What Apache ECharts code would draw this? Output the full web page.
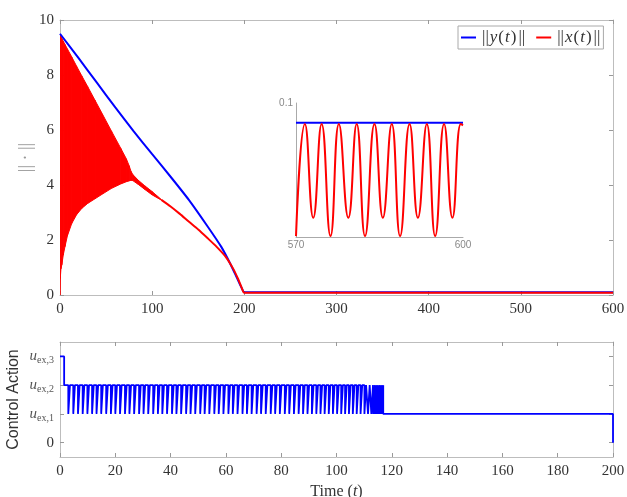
<!DOCTYPE html>
<html>
<head>
<meta charset="utf-8">
<script src="https://cdn.jsdelivr.net/npm/echarts@6/dist/echarts.min.js"></script>
<style>
  html, body { margin: 0; padding: 0; background: #fff; }
  #chart { width: 627px; height: 497px; }
</style>
</head>
<body>
<div id="chart"></div>
<script>
// ||y(t)|| (blue)
var yT = [0, 20, 40, 60, 80, 100, 120, 140, 160, 175, 185, 192, 197, 200, 600];
var yV = [9.5, 8.62, 7.72, 6.82, 5.95, 5.12, 4.3, 3.45, 2.5, 1.75, 1.12, 0.62, 0.26, 0.1, 0.1];

// ||x(t)|| oscillation envelope (red band) up to where it collapses
var envT  = [0, 0.3, 1, 2, 3.5, 5.4, 8, 12.7, 18, 23.6, 30, 38, 46, 56, 66, 72, 75, 77, 79, 85, 92, 100, 110];
var envHi = [9.45, 9.43, 9.39, 9.33, 9.23, 9.11, 8.95, 8.66, 8.32, 7.97, 7.58, 7.08, 6.58, 5.95, 5.33, 4.95, 4.7, 4.5, 4.38, 4.17, 3.97, 3.76, 3.47];
var envLo = [0, 0.6, 0.95, 1.1, 1.45, 1.76, 2.15, 2.6, 2.92, 3.15, 3.33, 3.5, 3.67, 3.88, 4.04, 4.12, 4.15, 4.17, 4.16, 4.02, 3.84, 3.64, 3.45];

// ||x(t)|| after the band has collapsed
var xT = [110, 120, 130, 140, 150, 160, 170, 180, 188, 193, 197, 200, 600];
var xV = [3.46, 3.22, 2.95, 2.66, 2.38, 2.07, 1.75, 1.38, 0.95, 0.6, 0.28, 0.08, 0.08];

// inset, t in [570, 600]
var insetT = [570, 571.6, 573.1, 574.6, 576.2, 577.7, 579.4, 580.9, 582.4, 584.1, 585.6, 587.2, 588.7, 590.4, 591.9, 593.5, 595.0, 596.6, 598.1, 599.6, 600];
var insetX = [0.0702, 0.0953, 0.0743, 0.0953, 0.0702, 0.0953, 0.0743, 0.0953, 0.0702, 0.0953, 0.0743, 0.0953, 0.0702, 0.0953, 0.0743, 0.0953, 0.0702, 0.0953, 0.0743, 0.0953, 0.095];
var insetY = [0.0956, 0.0956];
var insetYT = [570, 600];

// control action: u_ex,3 at start, u_ex,2 with short dips to u_ex,1, then u_ex,1, then 0
var uStartLevel = 3;
var uFirstSwitch = 1.5;
var dipStarts = [3.0, 4.8, 6.5, 8.2, 9.9, 11.6, 13.2, 14.9, 16.7, 18.4, 20.0, 21.7, 23.5, 25.1, 26.8, 28.6,
  30.2, 31.9, 33.7, 35.4, 37.0, 38.7, 40.5, 42.1, 43.8, 45.6, 47.2, 48.9, 50.7, 52.3, 54.0, 55.8, 57.4,
  59.1, 60.9, 62.5, 64.2, 66.0, 67.6, 69.3, 71.1, 72.7, 74.4, 76.2, 77.8, 79.5, 81.3, 82.9, 84.6, 86.3,
  87.9, 89.5, 91.1, 92.7, 94.2, 95.7, 97.2, 98.7, 100.2, 101.7, 103.1, 104.5, 105.9, 107.3, 108.7, 110.1,
  111.4, 112.6, 113.3, 113.9, 114.5, 115.1, 115.7, 116.3];
var dipWidth = 0.6;
var finalDrop = 116.9;
var endTime = 200;

var uLabels = ['0', 'u_ex,1', 'u_ex,2', 'u_ex,3'];

function pairs(t, v) {
  return t.map(function (x, i) { return [x, v[i]]; });
}

// build step path for the control action
var uData = [[0, uStartLevel], [uFirstSwitch, uStartLevel], [uFirstSwitch, 2]];
dipStarts.forEach(function (s) {
  uData.push([s, 2], [s, 1], [s + dipWidth, 1], [s + dipWidth, 2]);
});
uData.push([finalDrop, 2], [finalDrop, 1], [endTime, 1], [endTime, 0]);

var serif = 'Liberation Serif, DejaVu Serif, serif';
var frame = '#bdbdbd';
var labelColor = '#333';

function frameAxis(grid, pos, min, max, interval, extra) {
  var a = {
    gridIndex: grid, position: pos, type: 'value', min: min, max: max, interval: interval,
    axisLine: { show: true, onZero: false, lineStyle: { color: frame, width: 1 } },
    axisTick: { show: true, inside: true, length: 4, lineStyle: { color: '#999' } },
    axisLabel: { show: false },
    splitLine: { show: false }
  };
  return Object.assign(a, extra || {});
}

var chart = echarts.init(document.getElementById('chart'));

var option = {
  animation: false,
  grid: [
    { left: 60, top: 20, right: 14, bottom: 202, containLabel: false, outerBoundsMode: 'none' },
    { left: 60, top: 342, right: 14, bottom: 40, containLabel: false, outerBoundsMode: 'none' },
    { left: 296, top: 103, width: 167, height: 134, containLabel: false, outerBoundsMode: 'none' }
  ],
  legend: {
    data: ['y', 'x'],
    left: 458, top: 26,
    padding: [3, 3],
    itemGap: 11, itemWidth: 15, itemHeight: 2,
    icon: 'rect',
    borderColor: '#aaa', borderWidth: 1, backgroundColor: '#fff',
    formatter: function (name) {
      return '{n|||}{i|' + name + '}{n|(}{i|t}{n|)}{n|||}';
    },
    textStyle: {
      rich: {
        n: { fontFamily: serif, fontSize: 17, color: '#333', padding: [0, 1] },
        i: { fontFamily: serif, fontSize: 17, fontStyle: 'italic', color: '#333' }
      }
    }
  },
  xAxis: [
    frameAxis(0, 'bottom', 0, 600, 100, {
      axisLabel: { show: true, fontFamily: serif, fontSize: 15, color: labelColor, margin: 7 }
    }),
    frameAxis(0, 'top', 0, 600, 100),
    frameAxis(1, 'bottom', 0, 200, 20, {
      name: '{a|Time (}{i|t}{a|)}', nameLocation: 'middle', nameGap: 27, nameMoveOverlap: false,
      nameTextStyle: {
        rich: {
          a: { fontFamily: serif, fontSize: 16, color: labelColor },
          i: { fontFamily: serif, fontSize: 16, fontStyle: 'italic', color: labelColor }
        }
      },
      axisLabel: { show: true, fontFamily: serif, fontSize: 15, color: labelColor, margin: 7 }
    }),
    frameAxis(1, 'top', 0, 200, 20),
    {
      gridIndex: 2, type: 'value', min: 570, max: 600, interval: 30,
      axisLine: { show: true, onZero: false, lineStyle: { color: '#aaa' } },
      axisTick: { show: false },
      axisLabel: { fontFamily: 'Liberation Sans, sans-serif', fontSize: 10, color: '#888', margin: 3 },
      splitLine: { show: false }
    }
  ],
  yAxis: [
    frameAxis(0, 'left', 0, 10, 2, {
      name: '|| \u00b7 ||', nameLocation: 'middle', nameGap: 25, nameRotate: 90, nameMoveOverlap: false,
      nameTextStyle: { fontFamily: serif, fontSize: 18, color: '#999' },
      axisLabel: { show: true, fontFamily: serif, fontSize: 15, color: labelColor, margin: 6 }
    }),
    frameAxis(0, 'right', 0, 10, 2),
    frameAxis(1, 'left', -0.5, 3.5, null, {
      name: 'Control Action', nameLocation: 'middle', nameGap: 38, nameRotate: 90, nameMoveOverlap: false,
      nameTextStyle: { fontFamily: 'Liberation Sans, Arial, sans-serif', fontSize: 16, color: '#333' },
      axisTick: { show: true, inside: true, length: 4, lineStyle: { color: '#999' }, customValues: [0, 1, 2, 3] },
      axisLabel: {
        show: true, customValues: [0, 1, 2, 3], margin: 6, color: labelColor,
        formatter: function (v) {
          var s = uLabels[Math.round(v)];
          if (s === '0') return '{z|0}';
          return '{u|u}{s|' + s.slice(2) + '}';
        },
        rich: {
          z: { fontFamily: serif, fontSize: 15, color: labelColor },
          u: { fontFamily: serif, fontSize: 15, fontStyle: 'italic', color: '#555', lineHeight: 18 },
          s: { fontFamily: serif, fontSize: 10, color: '#555', verticalAlign: 'bottom', lineHeight: 12 }
        }
      }
    }),
    frameAxis(1, 'right', -0.5, 3.5, null, {
      axisTick: { show: true, inside: true, length: 4, lineStyle: { color: '#999' }, customValues: [0, 1, 2, 3] }
    }),
    {
      gridIndex: 2, type: 'value', min: 0.07, max: 0.1,
      axisLine: { show: true, onZero: false, lineStyle: { color: '#aaa' } },
      axisTick: { show: false },
      axisLabel: { customValues: [0.1], fontFamily: 'Liberation Sans, sans-serif', fontSize: 10, color: '#888', margin: 3 },
      splitLine: { show: false }
    }
  ],
  series: [
    {
      // red oscillation band
      type: 'custom', name: 'band', xAxisIndex: 0, yAxisIndex: 0, silent: true, clip: true,
      data: envT.map(function (t, i) { return [t, envLo[i], envHi[i]]; }),
      encode: { x: 0, y: [1, 2] },
      renderItem: function (params, api) {
        var i = params.dataIndex;
        if (i >= envT.length - 1) return null;
        var p1 = api.coord([envT[i], envHi[i]]);
        var p2 = api.coord([envT[i + 1], envHi[i + 1]]);
        var p3 = api.coord([envT[i + 1], envLo[i + 1]]);
        var p4 = api.coord([envT[i], envLo[i]]);
        return {
          type: 'polygon',
          shape: { points: [p1, p2, p3, p4] },
          style: { fill: '#ff0000', stroke: '#ff0000', lineWidth: 1 }
        };
      },
      z: 2
    },
    {
      type: 'line', name: 'y', xAxisIndex: 0, yAxisIndex: 0,
      data: pairs(yT, yV), showSymbol: false, smooth: 0.2,
      lineStyle: { color: '#0000ff', width: 2 }, itemStyle: { color: '#0000ff' }, z: 3
    },
    {
      type: 'line', name: 'x', xAxisIndex: 0, yAxisIndex: 0,
      data: pairs(xT, xV), showSymbol: false, smooth: 0.2,
      lineStyle: { color: '#ff0000', width: 2 }, itemStyle: { color: '#ff0000' }, z: 4
    },
    {
      type: 'line', name: 'y inset', xAxisIndex: 4, yAxisIndex: 4,
      data: pairs(insetYT, insetY), showSymbol: false,
      lineStyle: { color: '#0000ff', width: 2 }, itemStyle: { color: '#0000ff' }, z: 3
    },
    {
      type: 'line', name: 'x inset', xAxisIndex: 4, yAxisIndex: 4,
      data: pairs(insetT, insetX), showSymbol: false, smooth: true,
      lineStyle: { color: '#ff0000', width: 2 }, itemStyle: { color: '#ff0000' }, z: 4
    },
    {
      type: 'line', name: 'u', xAxisIndex: 2, yAxisIndex: 2,
      data: uData, showSymbol: false,
      lineStyle: { color: '#0000ff', width: 1.8 }, itemStyle: { color: '#0000ff' }
    }
  ]
};

chart.setOption(option);
</script>
</body>
</html>
